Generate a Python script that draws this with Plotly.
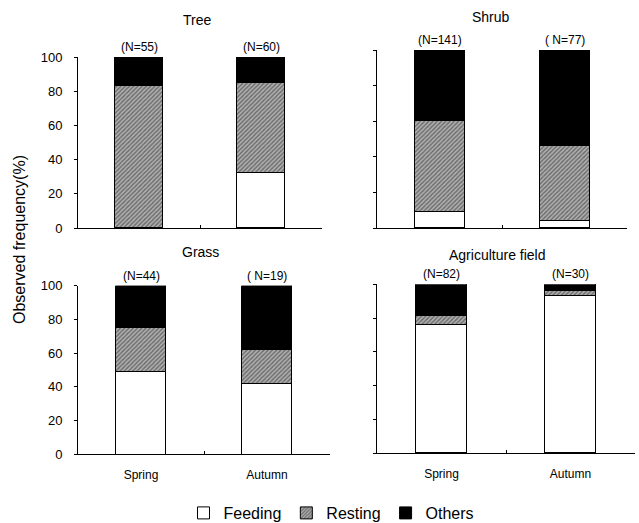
import plotly.graph_objects as go

seasons = ["Spring", "Autumn"]
habitats = ["Tree", "Shrub", "Grass", "Agriculture field"]
n_labels = {
    "Tree": ["(N=55)", "(N=60)"],
    "Shrub": ["(N=141)", "( N=77)"],
    "Grass": ["(N=44)", "( N=19)"],
    "Agriculture field": ["(N=82)", "(N=30)"],
}
feeding = {"Tree": [0, 32], "Shrub": [9, 4], "Grass": [49, 42], "Agriculture field": [76, 93]}
resting = {"Tree": [83, 53], "Shrub": [51, 42], "Grass": [26, 20], "Agriculture field": [5, 3]}
others = {"Tree": [17, 15], "Shrub": [40, 54], "Grass": [25, 38], "Agriculture field": [19, 4]}

W, H = 639, 523
FONT = "Liberation Sans, Arial, sans-serif"

# panel pixel boxes: (x0, x1, ytop, ybottom)
boxes = {
    "Tree": (78, 322, 57, 228),
    "Shrub": (377, 627, 50, 228),
    "Grass": (78, 330, 285.7, 454.3),
    "Agriculture field": (377, 635, 284.3, 453.3),
}
title_pos = {"Tree": (197, 20), "Shrub": (491, 17), "Grass": (200, 252), "Agriculture field": (497, 255)}

fig = go.Figure()
layout = {}
annotations = []

for i, h in enumerate(habitats):
    ax = "" if i == 0 else str(i + 1)
    x0, x1, yt, yb = boxes[h]
    xd = [x0 / W, x1 / W]
    yd = [1 - yb / H, 1 - yt / H]
    bottom_row = h in ("Grass", "Agriculture field")
    left_col = h in ("Tree", "Grass")
    first = i == 0
    fig.add_trace(go.Bar(
        x=seasons, y=feeding[h], name="Feeding", width=0.4,
        marker=dict(color="white", line=dict(color="black", width=1)),
        xaxis="x" + ax, yaxis="y" + ax, showlegend=first, legendgroup="f"))
    fig.add_trace(go.Bar(
        x=seasons, y=resting[h], name="Resting", width=0.4,
        marker=dict(color="#9a9a9a", line=dict(color="black", width=1),
                    pattern=dict(shape="/", fgcolor="#222222", bgcolor="#b0b0b0",
                                 size=3, solidity=0.45)),
        xaxis="x" + ax, yaxis="y" + ax, showlegend=first, legendgroup="r"))
    fig.add_trace(go.Bar(
        x=seasons, y=others[h], name="Others", width=0.4,
        marker=dict(color="black", line=dict(color="black", width=1)),
        xaxis="x" + ax, yaxis="y" + ax, showlegend=first, legendgroup="o"))

    layout["xaxis" + ax] = dict(
        domain=xd, anchor="y" + ax, type="category", range=[-0.5, 1.5],
        showline=True, linecolor="black", linewidth=1,
        ticks="inside", ticklen=3, tickson="boundaries", tickcolor="black",
        showticklabels=bottom_row, showgrid=False, zeroline=False,
        ticklabelstandoff=9,
        tickfont=dict(family=FONT, size=12, color="black"))
    layout["yaxis" + ax] = dict(
        domain=yd, anchor="x" + ax, range=[0, 100],
        tickvals=[0, 20, 40, 60, 80, 100],
        showline=True, linecolor="black", linewidth=1,
        ticks="outside", ticklen=3, tickcolor="black",
        showticklabels=left_col, showgrid=False, zeroline=False,
        ticklabelstandoff=9,
        tickfont=dict(family=FONT, size=13, color="black"))

    tx, ty = title_pos[h]
    annotations.append(dict(text=h, x=tx / W, y=1 - ty / H, xref="paper", yref="paper",
                            showarrow=False, xanchor="center", yanchor="middle",
                            font=dict(family=FONT, size=14, color="black")))
    for j, s in enumerate(seasons):
        annotations.append(dict(text=n_labels[h][j], x=s, y=100, xref="x" + ax, yref="y" + ax,
                                showarrow=False, xanchor="center", yanchor="bottom", yshift=1,
                                font=dict(family=FONT, size=12, color="black")))

annotations.append(dict(text="Observed frequency(%)", x=20 / W, y=1 - 240 / H,
                        xref="paper", yref="paper", showarrow=False, textangle=-90,
                        xanchor="center", yanchor="middle",
                        font=dict(family=FONT, size=16, color="black")))

fig.update_layout(
    width=W, height=H, margin=dict(l=0, r=0, t=0, b=0, autoexpand=False),
    barmode="stack", bargap=0,
    paper_bgcolor="white", plot_bgcolor="white",
    showlegend=True,
    legend=dict(orientation="h", x=0.5 + 12 / W, y=1 - 513 / H, xanchor="center", yanchor="middle",
                font=dict(family=FONT, size=16, color="black"), traceorder="normal",
                itemwidth=30, bgcolor="rgba(0,0,0,0)"),
    annotations=annotations,
    **layout,
)

fig.write_html("out.html", config={"displayModeBar": False},
               post_script="document.body.style.margin='0';document.body.style.overflow='hidden';")
